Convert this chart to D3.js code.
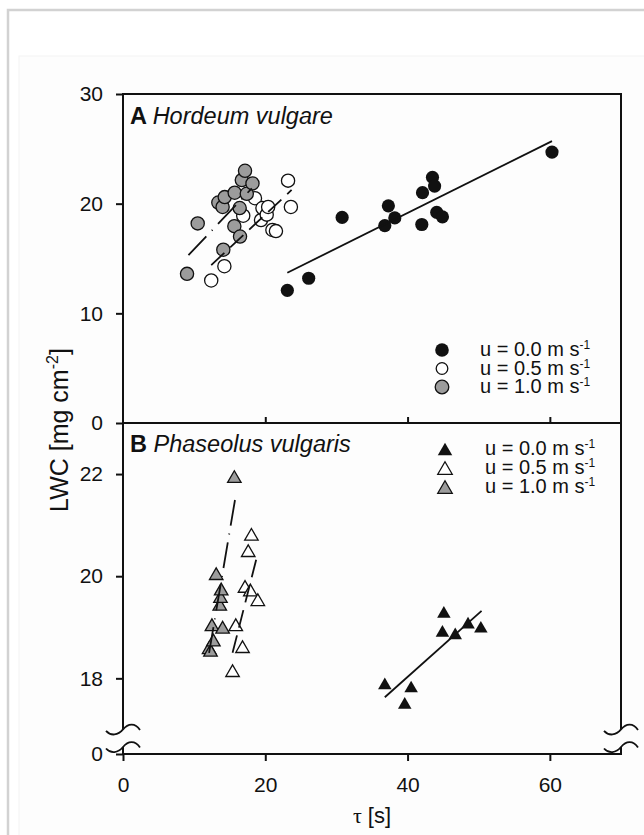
<!DOCTYPE html>
<html>
<head>
<meta charset="utf-8">
<script src="https://cdn.jsdelivr.net/npm/d3@7"></script>
<style>
	html, body { margin: 0; padding: 0; background: #fff; }
	svg { display: block; font-family: Arial, "Liberation Sans", sans-serif; }
</style>
</head>
<body>
<div id="chart" style="width:644px;height:835px;"></div>
<script>
// tick values
const xTicks = [ 0, 20, 40, 60 ];
const yTicksA = [ 0, 10, 20, 30 ];
const yTicksB = [ 18, 20, 22 ];
const speedLabels = [ '0.0', '0.5', '1.0' ];

// A Hordeum vulgare : [ tau (s), LWC (mg cm-2) ]
const hordeumU00 = [ [23.1,12.1],[26.1,13.2],[30.8,18.75],[36.8,18.0],[37.3,19.8],[38.2,18.7],[42.0,18.1],[42.1,21.0],[43.5,22.4],[43.8,21.6],[44.1,19.2],[44.9,18.8],[60.3,24.7] ];
const hordeumU05 = [ [12.4,13.0],[14.25,14.3],[16.9,18.9],[18.55,20.5],[19.4,18.5],[19.6,19.6],[20.2,19.0],[20.4,19.7],[21.0,17.6],[21.5,17.5],[23.2,22.1],[23.6,19.7] ];
const hordeumU10 = [ [9.0,13.6],[10.5,18.2],[13.4,20.1],[14.0,19.7],[14.1,15.8],[14.3,20.6],[15.65,17.95],[15.7,21.0],[16.4,19.6],[16.45,17.0],[16.7,22.15],[17.15,23.0],[17.4,20.9],[18.2,21.85] ];
// regression lines (end points)
const hordeumFit00 = [ [23.1,13.7],[60.3,25.7] ];
const hordeumFit05 = [ [12.4,14.4],[23.7,21.25] ];
const hordeumFit10 = [ [9.2,15.3],[18.1,21.4] ];

// B Phaseolus vulgaris
const phaseolusU00 = [ [36.8,17.9],[39.6,17.52],[40.5,17.84],[44.9,18.93],[45.1,19.3],[46.7,18.88],[48.5,19.09],[50.3,19.01] ];
const phaseolusU05 = [ [15.4,18.15],[15.85,19.05],[16.8,18.62],[17.15,19.8],[17.6,20.5],[17.9,19.73],[18.05,20.82],[18.95,19.54] ];
const phaseolusU10 = [ [12.1,18.6],[12.3,18.55],[12.5,19.05],[12.7,18.75],[13.1,20.05],[13.6,19.45],[13.7,19.6],[13.8,19.75],[14.0,19.0],[15.65,21.95] ];
const phaseolusFit00 = [ [36.8,17.63],[50.4,19.32] ];
const phaseolusFit05 = [ [15.4,18.5],[18.95,20.45] ];
const phaseolusFit10 = [ [12.1,18.5],[15.75,21.5] ];

let container = document.getElementById( 'chart' ),
	width = 644,
	height = 835,
	svg = d3.select( container )
		.append( 'svg' )
		.attr( 'width', width )
		.attr( 'height', height ),
	// styles per wind speed : 0.0, 0.5, 1.0
	fills = [ '#111', '#fff', '#9c9c9c' ],
	dashes = [ null, '18,8', '26,8,1,8' ],
	ink = '#111',
	left = 123,
	right = 621,
	x = d3.scaleLinear().domain( [ 0, 70 ] ).range( [ left, right ] ),
	yA = d3.scaleLinear().domain( [ 0, 30 ] ).range( [ 423, 94 ] ),
	yB = d3.scaleLinear().domain( [ 17, 23 ] ).range( [ 729.4, 423 ] ),
	// broken part of the axis, 0..17 squeezed under the break
	yBase = d3.scaleLinear().domain( [ 0, 17 ] ).range( [ 754, 729.4 ] );

// page frame
svg.append( 'rect' )
	.attr( 'x', 8 ).attr( 'y', 10 )
	.attr( 'width', 700 ).attr( 'height', 900 )
	.attr( 'fill', '#fff' )
	.attr( 'stroke', '#d2d2d2' )
	.attr( 'stroke-width', 2.5 );
svg.append( 'rect' )
	.attr( 'x', 19 ).attr( 'y', 56 )
	.attr( 'width', 700 ).attr( 'height', 900 )
	.attr( 'fill', '#fdfdfd' )
	.attr( 'stroke', '#f3f3f3' );

let triangle = ( s )=>{
	let h = s * 0.433;
	return `M0,${-h}L${s / 2},${h}L${-s / 2},${h}Z`;
};

function drawPanel( yScale, series, fits, shape ){
	let g = svg.append( 'g' );
	// points, white first so grey sits on top
	[ 1, 2, 0 ].forEach( ( k )=>{
		let sel = g.selectAll( null ).data( series[ k ] );
		if( shape === 'circle' ){
			sel.enter().append( 'circle' )
				.attr( 'cx', d => x( d[0] ) )
				.attr( 'cy', d => yScale( d[1] ) )
				.attr( 'r', 6.6 )
				.attr( 'fill', fills[ k ] )
				.attr( 'stroke', ink )
				.attr( 'stroke-width', k === 0 ? 0 : 1.3 );
		} else {
			sel.enter().append( 'path' )
				.attr( 'd', triangle( 13.5 ) )
				.attr( 'transform', d => `translate(${x( d[0] )},${yScale( d[1] )})` )
				.attr( 'fill', fills[ k ] )
				.attr( 'stroke', ink )
				.attr( 'stroke-width', k === 0 ? 0 : 1.3 );
		}
	} );
	// regression lines
	let line = d3.line().x( d => x( d[0] ) ).y( d => yScale( d[1] ) );
	fits.forEach( ( f, k )=>{
		g.append( 'path' )
			.attr( 'd', line( f ) )
			.attr( 'fill', 'none' )
			.attr( 'stroke', ink )
			.attr( 'stroke-width', 1.8 )
			.attr( 'stroke-dasharray', dashes[ k ] );
	} );
}

drawPanel( yA, [ hordeumU00, hordeumU05, hordeumU10 ], [ hordeumFit00, hordeumFit05, hordeumFit10 ], 'circle' );
drawPanel( yB, [ phaseolusU00, phaseolusU05, phaseolusU10 ], [ phaseolusFit00, phaseolusFit05, phaseolusFit10 ], 'triangle' );

// frame lines
let frame = svg.append( 'g' )
	.attr( 'stroke', ink )
	.attr( 'stroke-width', 2 )
	.attr( 'fill', 'none' );
[ yA( 30 ), yA( 0 ), yBase( 0 ) ].forEach( ( yy )=>{
	frame.append( 'line' ).attr( 'x1', left - 1 ).attr( 'x2', right + 1 ).attr( 'y1', yy ).attr( 'y2', yy );
} );
let breakLow = yBase( 0 ) - 7;
[ left, right ].forEach( ( xx )=>{
	frame.append( 'line' ).attr( 'x1', xx ).attr( 'x2', xx ).attr( 'y1', yA( 30 ) ).attr( 'y2', yB( 17 ) );
	frame.append( 'line' ).attr( 'x1', xx ).attr( 'x2', xx ).attr( 'y1', breakLow ).attr( 'y2', yBase( 0 ) );
	// axis break marks
	[ yB( 17 ), breakLow ].forEach( ( yy )=>{
		frame.append( 'path' )
			.attr( 'transform', `translate(${xx},${yy})` )
			.attr( 'stroke-width', 1.8 )
			.attr( 'd', 'M-17,1.5C-12,7 -5,6 0,0C5,-6 12,-7 17,0.5' );
	} );
} );

// axes
function styleAxis( g, size ){
	g.select( '.domain' ).remove();
	g.attr( 'color', ink )
		.attr( 'font-size', size )
		.attr( 'font-family', 'Arial, "Liberation Sans", sans-serif' );
	g.selectAll( '.tick line' ).attr( 'stroke-width', 2 );
	g.selectAll( '.tick text' ).attr( 'fill', ink );
}
let fmt = d3.format( 'd' );
svg.append( 'g' )
	.attr( 'transform', `translate(${left},0)` )
	.call( d3.axisLeft( yA ).tickValues( yTicksA ).tickFormat( fmt ).tickSize( 7 ).tickPadding( 13 ) )
	.call( styleAxis, 21 );
svg.append( 'g' )
	.attr( 'transform', `translate(${left},0)` )
	.call( d3.axisLeft( yB ).tickValues( yTicksB ).tickFormat( fmt ).tickSize( 7 ).tickPadding( 13 ) )
	.call( styleAxis, 21 );
svg.append( 'g' )
	.attr( 'transform', `translate(${left},0)` )
	.call( d3.axisLeft( yBase ).tickValues( [ 0 ] ).tickFormat( fmt ).tickSize( 7 ).tickPadding( 13 ) )
	.call( styleAxis, 21 );
svg.append( 'g' )
	.attr( 'transform', `translate(0,${yBase( 0 )})` )
	.call( d3.axisBottom( x ).tickValues( xTicks ).tickFormat( fmt ).tickSize( 7 ).tickPadding( 16 ) )
	.call( styleAxis, 21 );
// inner ticks on the panel divider
svg.append( 'g' )
	.attr( 'transform', `translate(0,${yA( 0 )})` )
	.call( d3.axisTop( x ).tickValues( xTicks.slice( 1 ) ).tickSize( 6 ).tickFormat( '' ) )
	.call( styleAxis, 21 );

// axis titles
let yTitle = svg.append( 'text' )
	.attr( 'transform', `translate(68,${( yA( 30 ) + yBase( 0 ) ) / 2 + 6}) rotate(-90)` )
	.attr( 'text-anchor', 'middle' )
	.attr( 'font-size', 25 )
	.attr( 'fill', ink );
yTitle.append( 'tspan' ).text( 'LWC [mg cm' );
yTitle.append( 'tspan' ).attr( 'dy', -10 ).attr( 'font-size', 16 ).text( '-2' );
yTitle.append( 'tspan' ).attr( 'dy', 10 ).text( ']' );

let xTitle = svg.append( 'text' )
	.attr( 'x', ( left + right ) / 2 )
	.attr( 'y', 823 )
	.attr( 'text-anchor', 'middle' )
	.attr( 'font-size', 22 )
	.attr( 'fill', ink );
xTitle.append( 'tspan' ).attr( 'font-family', '"Liberation Serif", "DejaVu Serif", serif' ).text( 'τ' );
xTitle.append( 'tspan' ).text( ' [s]' );

// panel labels
function panelLabel( letter, name, yy ){
	let t = svg.append( 'text' )
		.attr( 'x', 130 )
		.attr( 'y', yy )
		.attr( 'font-size', 23.5 )
		.attr( 'fill', ink );
	t.append( 'tspan' ).attr( 'font-weight', 'bold' ).text( letter + ' ' );
	t.append( 'tspan' ).attr( 'font-style', 'italic' ).text( name );
}
panelLabel( 'A', 'Hordeum vulgare', 124 );
panelLabel( 'B', 'Phaseolus vulgaris', 452 );

// legends
function legend( mx, tx, y0, step, shape ){
	speedLabels.forEach( ( lab, k )=>{
		let yy = y0 + k * step;
		if( shape === 'circle' ){
			svg.append( 'circle' )
				.attr( 'cx', mx ).attr( 'cy', yy - 6 )
				.attr( 'r', k === 1 ? 5.8 : 6.8 )
				.attr( 'fill', fills[ k ] )
				.attr( 'stroke', ink )
				.attr( 'stroke-width', k === 0 ? 0 : 1.3 );
		} else {
			svg.append( 'path' )
				.attr( 'd', triangle( 14.5 ) )
				.attr( 'transform', `translate(${mx},${yy - 6})` )
				.attr( 'fill', fills[ k ] )
				.attr( 'stroke', ink )
				.attr( 'stroke-width', k === 0 ? 0 : 1.3 );
		}
		let t = svg.append( 'text' )
			.attr( 'x', tx ).attr( 'y', yy )
			.attr( 'font-size', 20 )
			.attr( 'fill', ink );
		t.append( 'tspan' ).text( `u = ${lab} m s` );
		t.append( 'tspan' ).attr( 'dy', -7 ).attr( 'font-size', 12 ).text( '-1' );
	} );
}
legend( 442, 480, 356, 18.5, 'circle' );
legend( 445, 485, 455, 19, 'triangle' );
</script>
</body>
</html>
